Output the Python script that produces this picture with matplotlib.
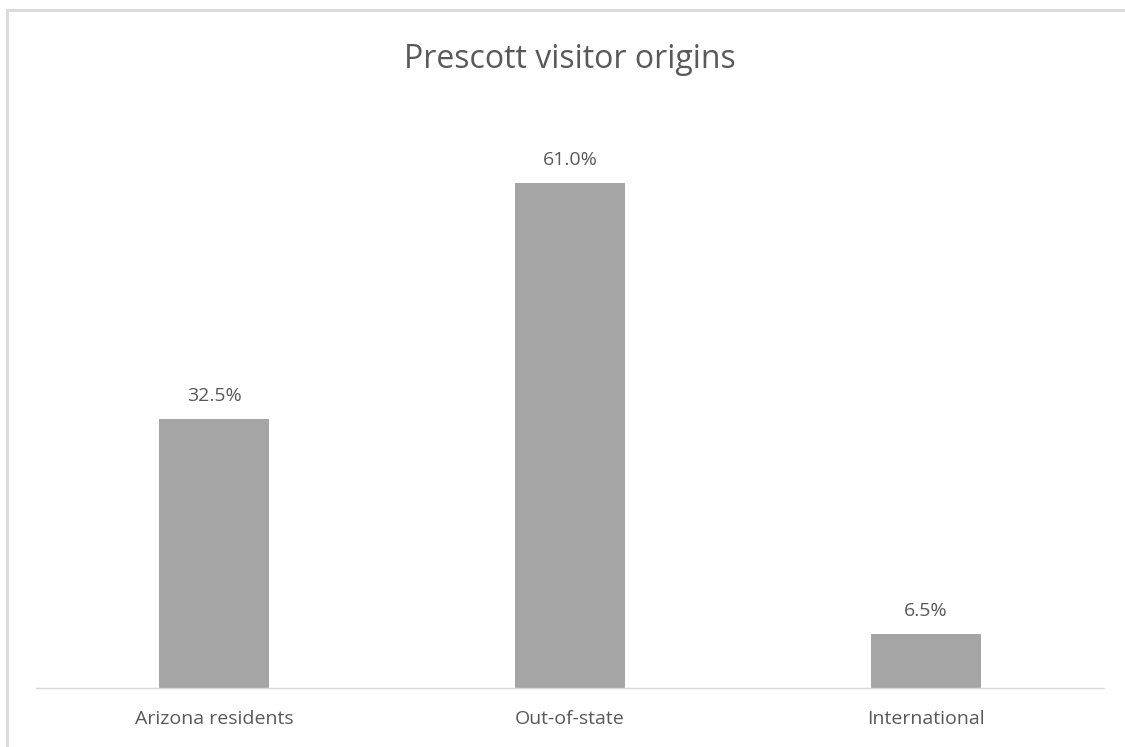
import matplotlib.pyplot as plt
from matplotlib.patches import Rectangle

categories = ["Arizona residents", "Out-of-state", "International"]
shares = [32.5, 61.0, 6.5]

BAR_COLOR = "#A5A5A5"
TEXT_COLOR = "#595959"

plt.rcParams["font.family"] = ["Open Sans", "DejaVu Sans"]

fig = plt.figure(figsize=(11.25, 7.47), dpi=100)
ax = fig.add_axes([0.032, 0.079, 0.9493, 0.7764])

x = range(len(categories))
bars = ax.bar(x, shares, width=0.31, color=BAR_COLOR)
for bar, val in zip(bars, shares):
    ax.annotate(f"{val:.1f}%", (bar.get_x() + bar.get_width() / 2, val),
                xytext=(0, 10), textcoords="offset points",
                ha="center", va="bottom", fontsize=14, color=TEXT_COLOR)

ax.set_xlim(-0.5, len(categories) - 0.5)
ax.set_ylim(0, 70)
ax.set_xticks(list(x))
ax.set_xticklabels(categories, fontsize=14, color=TEXT_COLOR)
ax.tick_params(axis="x", length=0, pad=16)
ax.set_yticks([])
for side in ["top", "right", "left"]:
    ax.spines[side].set_visible(False)
ax.spines["bottom"].set_color("#D9D9D9")
ax.spines["bottom"].set_linewidth(1.0)

fig.text(0.507, 0.921, "Prescott visitor origins", ha="center", va="center",
         fontsize=23, color=TEXT_COLOR)

# chart frame, clipped at right and bottom edges
fig.patches.append(Rectangle((7 / 1125, -0.1), 1.2, 0.1 + (747 - 10) / 747,
                             transform=fig.transFigure, fill=False,
                             edgecolor="#D9D9D9", linewidth=2))

plt.savefig("out.png", dpi=100)
